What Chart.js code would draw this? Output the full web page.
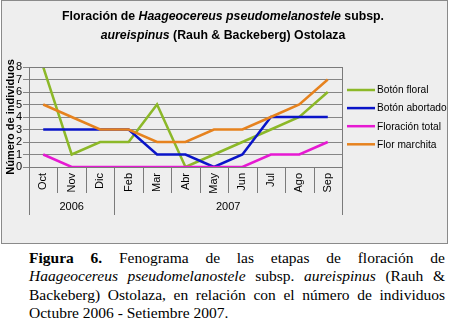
<!DOCTYPE html>
<html>
<head>
<meta charset="utf-8">
<script src="https://cdn.jsdelivr.net/npm/chart.js@4/dist/chart.umd.min.js"></script>
<style>
  body { margin: 0; background: #fff; width: 450px; height: 321px; position: relative; overflow: hidden; }
  #box { position: absolute; left: 1px; top: 0; width: 445px; height: 242px; background: #eeeeee; border: 1px solid #8a8a8a; }
  #chartCanvas { position: absolute; left: 0; top: 0; }
  #title { position: absolute; left: 0; top: 7px; width: 446px; text-align: center;
           font: bold 12.3px "Liberation Sans", Arial, sans-serif; line-height: 18.6px; color: #000; }
  #caption { position: absolute; left: 29px; top: 249px; width: 416px;
             font: 15.5px "Liberation Serif", "Times New Roman", serif; line-height: 18.3px; color: #000; }
  #caption div { text-align: justify; text-align-last: justify; white-space: nowrap; }
  #caption div.last { text-align-last: left; }
</style>
</head>
<body>
<div id="box"></div>
<canvas id="chartCanvas" width="450" height="245"></canvas>
<div id="title">Floración de <i>Haageocereus pseudomelanostele</i> subsp.<br><i>aureispinus</i> (Rauh &amp; Backeberg) Ostolaza</div>
<div id="caption">
  <div><b>Figura 6.</b> Fenograma de las etapas de floración de</div>
  <div><i>Haageocereus pseudomelanostele</i> subsp. <i>aureispinus</i> (Rauh &amp;</div>
  <div>Backeberg) Ostolaza, en relación con el número de individuos</div>
  <div class="last">Octubre 2006 - Setiembre 2007.</div>
</div>
<script>
// months shown on the axis (no January in the survey)
var months = ['Oct', 'Nov', 'Dic', 'Feb', 'Mar', 'Abr', 'May', 'Jun', 'Jul', 'Ago', 'Sep'];
var yearLabels = ['2006', '2007'];
var monthsPerYear = [3, 8];

// number of individuals per stage
var botonFloral = [8, 1, 2, 2, 5, 0, 1, 2, 3, 4, 6];
var botonAbortado = [3, 3, 3, 3, 1, 1, 0, 1, 4, 4, 4];
var floracionTotal = [1, 0, 0, 0, 0, 0, 0, 0, 1, 1, 2];
var florMarchita = [5, 4, 3, 3, 2, 2, 3, 3, 4, 5, 7];

var yTicks = [0, 1, 2, 3, 4, 5, 6, 7, 8];

var fontFamily = '"Liberation Sans", Arial, sans-serif';

// draws frame, the two level category axis and the legend
var excelLook = {
    id: 'excelLook',
    afterDraw: function(chart) {
        var ctx = chart.ctx;
        var area = chart.chartArea;
        var xs = chart.scales.x;

        ctx.save();
        ctx.strokeStyle = '#7a7a7a';
        ctx.lineWidth = 1;
        ctx.strokeRect(area.left + 0.5, area.top + 0.5, area.right - area.left, area.bottom - area.top);

        // separators between months and between years
        var yearEdges = [0];
        monthsPerYear.forEach(function(n, i) { yearEdges.push(yearEdges[i] + n); });
        for (var i = 0; i <= months.length; i++) {
            var x = Math.round(xs.getPixelForValue(i - 0.5)) + 0.5;
            var len = yearEdges.indexOf(i) >= 0 ? 48 : 26;
            ctx.beginPath();
            ctx.moveTo(x, area.bottom);
            ctx.lineTo(x, area.bottom + len);
            ctx.stroke();
        }

        // year labels
        ctx.fillStyle = '#000';
        ctx.font = '11px ' + fontFamily;
        ctx.textAlign = 'center';
        ctx.textBaseline = 'middle';
        yearLabels.forEach(function(label, i) {
            var mid = (yearEdges[i] + yearEdges[i + 1] - 1) / 2;
            ctx.fillText(label, xs.getPixelForValue(mid), area.bottom + 40);
        });

        // legend
        var lx = area.right + 5;
        var ly = 90;
        ctx.textAlign = 'left';
        ctx.font = '10.2px ' + fontFamily;
        chart.data.datasets.forEach(function(ds, k) {
            var y = ly + k * 18.1;
            ctx.strokeStyle = ds.borderColor;
            ctx.lineWidth = 2.5;
            ctx.beginPath();
            ctx.moveTo(lx, y);
            ctx.lineTo(lx + 28, y);
            ctx.stroke();
            ctx.fillText(ds.label, lx + 30, y + 0.5);
        });
        ctx.restore();
    }
};

var ctx = document.getElementById('chartCanvas').getContext('2d');
var phenoChart = new Chart(ctx, {
    type: 'line',
    data: {
        labels: months,
        datasets: [
            { label: 'Botón floral', data: botonFloral, borderColor: '#8cb828', order: 4 },
            { label: 'Botón abortado', data: botonAbortado, borderColor: '#0a14c8', order: 3 },
            { label: 'Floración total', data: floracionTotal, borderColor: '#e619d2', order: 2 },
            { label: 'Flor marchita', data: florMarchita, borderColor: '#e6821e', order: 1 }
        ]
    },
    options: {
        responsive: false,
        animation: false,
        devicePixelRatio: 1,
        layout: { padding: { left: 0, top: 67, right: 108, bottom: 30 } },
        elements: {
            line: { borderWidth: 2.5, tension: 0, fill: false },
            point: { radius: 0 }
        },
        plugins: {
            legend: { display: false },
            title: { display: false },
            tooltip: { enabled: false }
        },
        scales: {
            x: {
                offset: true,
                grid: { display: true, drawOnChartArea: false, drawTicks: false, offset: true, color: 'rgba(0,0,0,0)' },
                border: { display: true, color: '#7a7a7a' },
                ticks: { color: '#000', font: { family: fontFamily, size: 11 },
                         minRotation: 90, maxRotation: 90, padding: 6, autoSkip: false },
                afterFit: function(scale) { scale.height = 48; }
            },
            y: {
                min: 0,
                max: 8,
                afterBuildTicks: function(scale) {
                    scale.ticks = yTicks.map(function(v) { return { value: v }; });
                },
                grid: { color: '#858585', tickLength: 6, drawTicks: true },
                border: { display: true, color: '#7a7a7a' },
                ticks: { color: '#000', font: { family: fontFamily, size: 11 }, padding: 1, autoSkip: false },
                title: {
                    display: true,
                    text: 'Número de individuos',
                    color: '#000',
                    font: { family: fontFamily, size: 11, weight: 'bold' },
                    padding: { top: 4, bottom: 0 }
                },
                afterFit: function(scale) { scale.width = 29; }
            }
        }
    },
    plugins: [excelLook]
});
</script>
</body>
</html>
